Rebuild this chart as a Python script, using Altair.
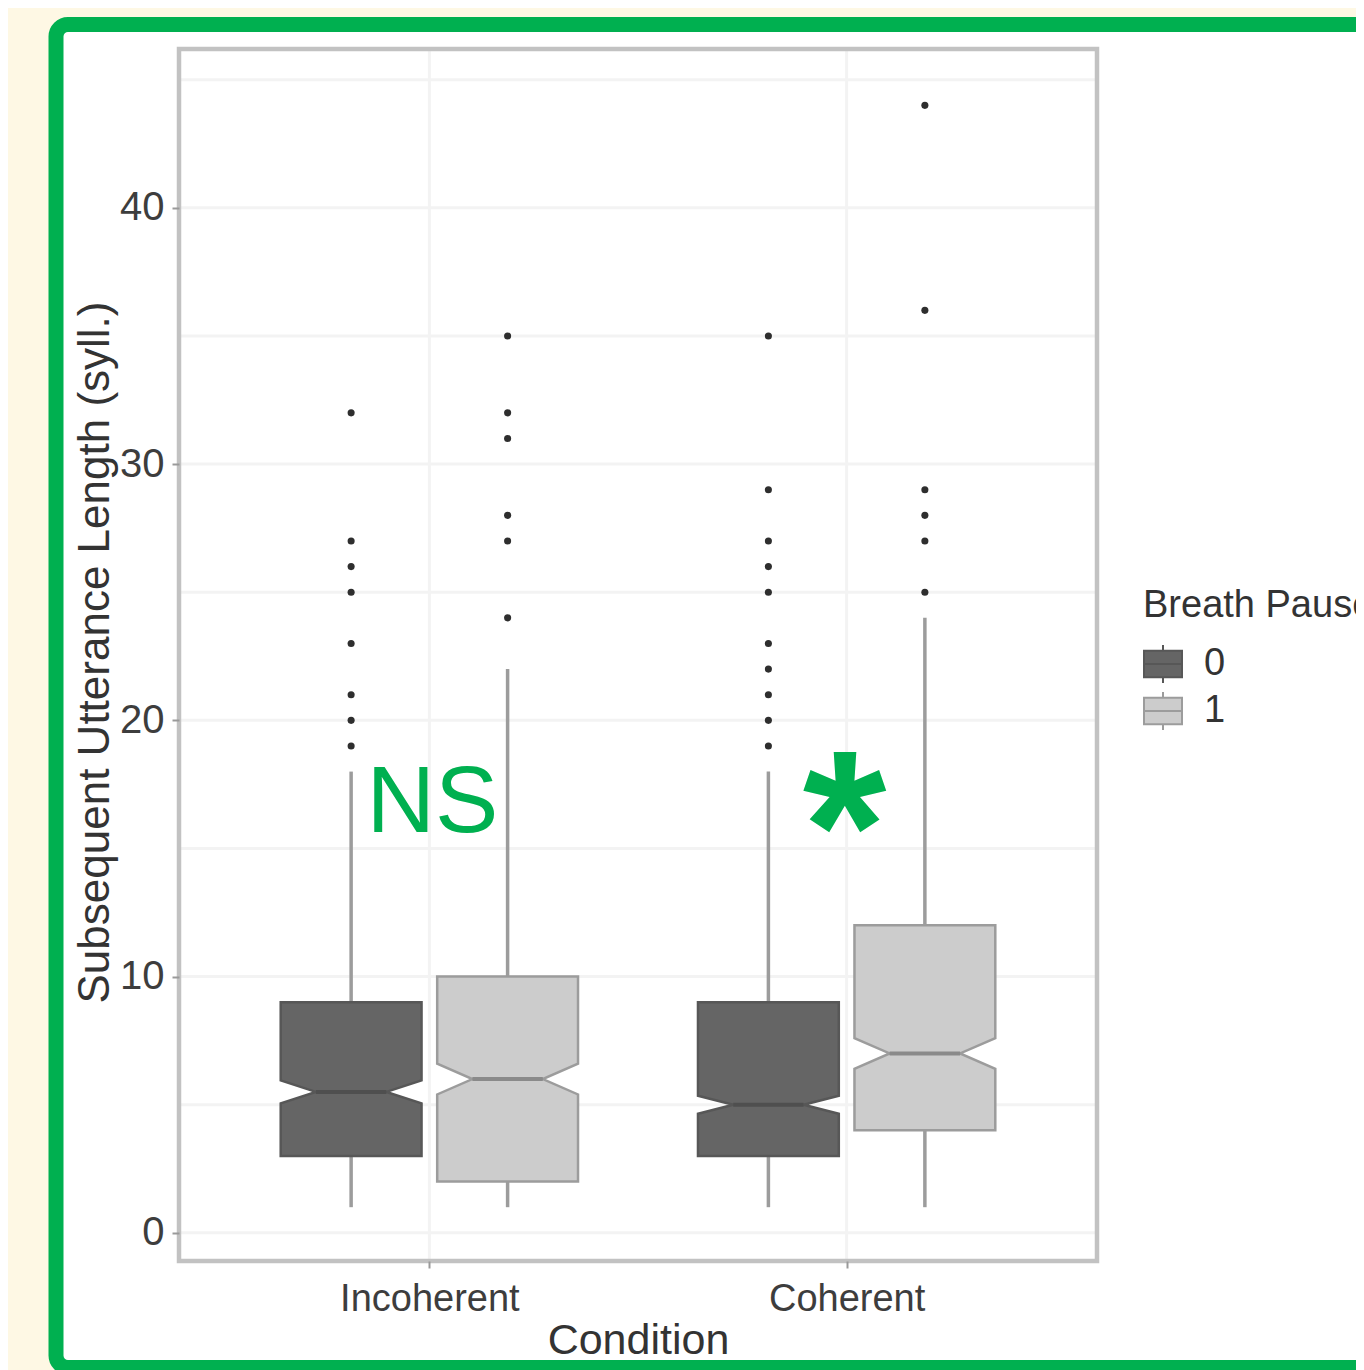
import altair as alt
import pandas as pd

# ---------------- data ----------------
conditions = ["Incoherent", "Coherent"]
breath_levels = ["0", "1"]

box_condition = ["Incoherent", "Incoherent", "Coherent", "Coherent"]
box_breath = ["0", "1", "0", "1"]
q1 = [3, 2, 3, 4]
median = [5.5, 6, 5, 7]
q3 = [9, 10, 9, 12]
notch_lo = [5.05, 5.4, 4.65, 6.4]
notch_hi = [5.95, 6.6, 5.35, 7.6]
whisker_lo = [1, 1, 1, 1]
whisker_hi = [18, 22, 18, 24]
outliers = [
    [19, 20, 21, 23, 25, 26, 27, 32],
    [24, 27, 28, 31, 32, 35],
    [19, 20, 21, 22, 23, 25, 26, 27, 29, 35],
    [25, 27, 28, 29, 36, 44],
]

y_ticks = [0, 10, 20, 30, 40]
y_grid = [0, 5, 10, 15, 20, 25, 30, 35, 40, 45]
x_grid = [1, 2]

annotation_text = ["NS", "*"]
annotation_condition = ["Incoherent", "Coherent"]
annotation_y = [15.65, 13.0]

# ---------------- styling / layout ----------------
FONT = "Liberation Sans"
GREEN = "#00b050"
W, H = 918, 1212
SVG_W, SVG_H = 1348, 1362
PAD_L, PAD_T = 171, 41
DODGE = 0.1875
BOX_HALF = 0.16875
NOTCH_HALF = 0.084375
fill_range = ["#656565", "#cccccc"]
stroke_range = ["#575757", "#9c9c9c"]
median_range = ["#4f4f4f", "#8a8a8a"]

cond_index = {c: i + 1 for i, c in enumerate(conditions)}
dodge = {"0": -DODGE, "1": DODGE}

poly_rows, whisk_rows, med_rows, out_rows = [], [], [], []
for i in range(len(box_condition)):
    c = cond_index[box_condition[i]] + dodge[box_breath[i]]
    bp = box_breath[i]
    pts = [(q1[i], BOX_HALF), (notch_lo[i], BOX_HALF), (median[i], NOTCH_HALF),
           (notch_hi[i], BOX_HALF), (q3[i], BOX_HALF)]
    for yv, hw in pts:
        poly_rows.append({"box": i, "bp": bp, "y": yv, "xl": c - hw, "xr": c + hw})
    whisk_rows.append({"box": i, "bp": bp, "x": c, "y": q3[i], "y2": whisker_hi[i]})
    whisk_rows.append({"box": i, "bp": bp, "x": c, "y": whisker_lo[i], "y2": q1[i]})
    med_rows.append({"box": i, "bp": bp, "y": median[i], "xl": c - NOTCH_HALF, "xr": c + NOTCH_HALF})
    for o in outliers[i]:
        out_rows.append({"box": i, "bp": bp, "x": c, "y": o})

poly_df = pd.DataFrame(poly_rows)
whisk_df = pd.DataFrame(whisk_rows)
med_df = pd.DataFrame(med_rows)
out_df = pd.DataFrame(out_rows)
ygrid_df = pd.DataFrame({"y": y_grid})
xgrid_df = pd.DataFrame({"x": x_grid})
ann_df = pd.DataFrame({
    "label": annotation_text,
    "x": [cond_index[c] for c in annotation_condition],
    "y": annotation_y,
})
one = pd.DataFrame({"a": [0]})

xscale = alt.Scale(domain=[0.4, 2.6], nice=False, zero=False)
yscale = alt.Scale(domain=[-1.1, 46.2], nice=False, zero=False)

label_expr = "[" + ",".join("'" + c + "'" for c in conditions) + "][datum.value - 1]"

y_axis = alt.Axis(
    values=y_ticks, grid=False, domain=False, tickColor="#9a9a9a", tickSize=7,
    tickWidth=2, labelFontSize=40, labelColor="#3d3d3d", labelPadding=8,
    labelFont=FONT, title="Subsequent Utterance Length (syll.)", titleFont=FONT,
    titleFontSize=44, titleFontWeight="normal", titleColor="#333333",
    titleAngle=270, titleAlign="center", titleBaseline="alphabetic",
    titleX=-71, titleY=603, zindex=2, titleLimit=2000,
)
x_axis = alt.Axis(
    values=x_grid, grid=False, domain=False, tickColor="#9a9a9a", tickSize=7,
    tickWidth=2, labelExpr=label_expr, labelFontSize=38, labelColor="#3d3d3d",
    labelFont=FONT, labelBaseline="alphabetic", labelPadding=42,
    labelLimit=1000, labelOverlap=False,
    title="Condition", titleFont=FONT, titleFontSize=43, titleFontWeight="normal",
    titleColor="#333333", titleBaseline="alphabetic", titleX=W / 2, titleY=92, zindex=2,
)

# decorative frame (green rounded border on white)
frame = alt.Chart(one).mark_rect(
    fill="white", stroke=GREEN, strokeWidth=15, cornerRadius=12
).encode(x=alt.value(-123), x2=alt.value(1300), y=alt.value(-24.5), y2=alt.value(1318.5))

hgrid = alt.Chart(ygrid_df).mark_rule(color="#f3f3f3", strokeWidth=3).encode(
    y=alt.Y("y:Q", scale=yscale, axis=y_axis)
)
vgrid = alt.Chart(xgrid_df).mark_rule(color="#f3f3f3", strokeWidth=3).encode(
    x=alt.X("x:Q", scale=xscale, axis=x_axis)
)

panel = alt.Chart(one).mark_rect(filled=False, stroke="#c2c2c2", strokeWidth=4.5).encode(
    x=alt.value(0), x2=alt.value(W), y=alt.value(0), y2=alt.value(H)
)

whiskers = alt.Chart(whisk_df).mark_rule(color="#9c9c9c", strokeWidth=3.5).encode(
    x=alt.X("x:Q", scale=xscale),
    y=alt.Y("y:Q", scale=yscale),
    y2="y2:Q",
)

boxes = alt.Chart(poly_df).mark_area(
    orient="horizontal", strokeWidth=2.5, opacity=1, interpolate="linear"
).encode(
    y=alt.Y("y:Q", scale=yscale),
    x=alt.X("xl:Q", scale=xscale, stack=None),
    x2="xr:Q",
    fill=alt.Fill(
        "bp:N",
        scale=alt.Scale(domain=breath_levels, range=fill_range),
        legend=alt.Legend(
            title="Breath Pause", orient="none", legendX=964, legendY=538, padding=0,
            titleFont=FONT, titleFontSize=38, titleFontWeight="normal", titleColor="#333333",
            titleLimit=1000, titlePadding=19,
            labelFont=FONT, labelFontSize=38, labelColor="#333333", labelOffset=21,
            symbolType="M-1,-0.7H1V0.7H-1Z M0,-0.7V-1 M0,0.7V1 M-1,0H1",
            symbolSize=1444, symbolStrokeColor="#7a7a7a", symbolStrokeWidth=2,
            symbolOpacity=1, rowPadding=1,
        ),
    ),
    stroke=alt.Stroke("bp:N", scale=alt.Scale(domain=breath_levels, range=stroke_range), legend=None),
    detail="box:N",
)

medians = alt.Chart(med_df).mark_rule(strokeWidth=4).encode(
    x=alt.X("xl:Q", scale=xscale),
    x2="xr:Q",
    y=alt.Y("y:Q", scale=yscale),
    color=alt.Color("bp:N", scale=alt.Scale(domain=breath_levels, range=median_range), legend=None),
)

points = alt.Chart(out_df).mark_circle(size=50, color="#2e2e2e", opacity=1).encode(
    x=alt.X("x:Q", scale=xscale),
    y=alt.Y("y:Q", scale=yscale),
)

ns_text = alt.Chart(ann_df).transform_filter(alt.datum.label == "NS").mark_text(
    font=FONT, fontSize=95, color=GREEN, align="center", baseline="alphabetic", dx=3
).encode(
    x=alt.X("x:Q", scale=xscale),
    y=alt.Y("y:Q", scale=yscale),
    text="label:N",
)
star_text = alt.Chart(ann_df).transform_filter(alt.datum.label == "*").mark_text(
    font=FONT, fontSize=215, fontWeight="bold", color=GREEN, align="center", baseline="alphabetic", dx=-2
).encode(
    x=alt.X("x:Q", scale=xscale),
    y=alt.Y("y:Q", scale=yscale),
    text="label:N",
)

chart = alt.layer(
    frame, hgrid, vgrid, panel, whiskers, boxes, medians, points, ns_text, star_text
).resolve_scale(fill="independent", stroke="independent", color="independent").properties(
    width=W, height=H,
    autosize=alt.AutoSizeParams(type="none"),
    padding={"left": PAD_L, "top": PAD_T, "right": SVG_W - PAD_L - W, "bottom": SVG_H - PAD_T - H},
    background="#fef8e4",
).configure_view(stroke=None).configure(font=FONT)

chart.save("out.html", embed_options={"renderer": "svg", "actions": False})
